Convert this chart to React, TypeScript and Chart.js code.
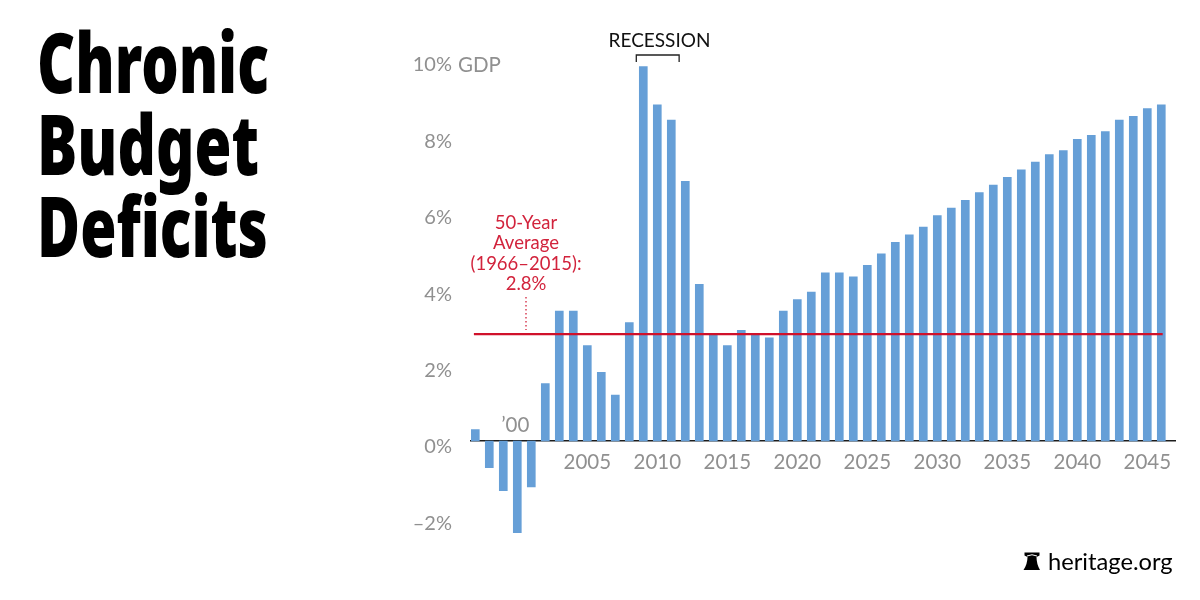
import React, { useEffect, useRef } from "react";
import { Chart, registerables } from "chart.js";

Chart.register(...registerables);

const years = [
  1997, 1998, 1999, 2000, 2001, 2002, 2003, 2004, 2005, 2006,
  2007, 2008, 2009, 2010, 2011, 2012, 2013, 2014, 2015, 2016,
  2017, 2018, 2019, 2020, 2021, 2022, 2023, 2024, 2025, 2026,
  2027, 2028, 2029, 2030, 2031, 2032, 2033, 2034, 2035, 2036,
  2037, 2038, 2039, 2040, 2041, 2042, 2043, 2044, 2045, 2046,
];
const deficits = [
  0.3, -0.7, -1.3, -2.4, -1.2, 1.5, 3.4, 3.4, 2.5, 1.8,
  1.2, 3.1, 9.8, 8.8, 8.4, 6.8, 4.1, 2.8, 2.5, 2.9,
  2.8, 2.7, 3.4, 3.7, 3.9, 4.4, 4.4, 4.3, 4.6, 4.9,
  5.2, 5.4, 5.6, 5.9, 6.1, 6.3, 6.5, 6.7, 6.9, 7.1,
  7.3, 7.5, 7.6, 7.9, 8.0, 8.1, 8.4, 8.5, 8.7, 8.8,
];
const averageValue = 2.8;
const averageSpan = [1996.9, 2046.1];
const xTickYears = [2005, 2010, 2015, 2020, 2025, 2030, 2035, 2040, 2045];
const yTickValues = [-2, 0, 2, 4, 6, 8, 10];
const titleLines = ["Chronic", "Budget", "Deficits"];
const averageNote = ["50-Year", "Average", "(1966–2015):", "2.8%"];
const recessionSpan = [2008.5, 2011.56];

const GREY = "#909090";
const RED = "#d2233c";
const BLUE = "#669fd7";
const FONT = "Lato, 'Open Sans', sans-serif";

const decorations = {
  id: "decorations",
  afterDraw(chart: any) {
    const { ctx, scales } = chart;
    const x = scales.x;
    const y = scales.y;
    ctx.save();

    // Title
    ctx.fillStyle = "#000";
    ctx.textAlign = "left";
    ctx.textBaseline = "alphabetic";
    ctx.font = "900 84px 'Noto Sans', 'Open Sans', sans-serif";
    const titleWidths = [232, 222, 231];
    titleLines.forEach((line, i) => {
      ctx.fillText(line, 37, 93 + i * 82, titleWidths[i]);
    });

    // "GDP" after the top tick
    ctx.fillStyle = GREY;
    ctx.font = `400 20.5px ${FONT}`;
    ctx.textBaseline = "middle";
    ctx.fillText("GDP", 458, y.getPixelForValue(10) + 6);

    // '00 label
    ctx.textAlign = "center";
    ctx.fillText("’00", x.getPixelForValue(2000) - 2, 425);

    // Recession bracket
    const rx0 = x.getPixelForValue(recessionSpan[0]);
    const rx1 = x.getPixelForValue(recessionSpan[1]);
    ctx.strokeStyle = "#222";
    ctx.lineWidth = 1.3;
    ctx.beginPath();
    ctx.moveTo(rx0, 62);
    ctx.lineTo(rx0, 55);
    ctx.lineTo(rx1, 55);
    ctx.lineTo(rx1, 62);
    ctx.stroke();
    ctx.fillStyle = "#111";
    ctx.font = `400 19px ${FONT}`;
    ctx.fillText("RECESSION", 659.5, 41);

    // Average note
    ctx.fillStyle = RED;
    ctx.font = `400 18.5px ${FONT}`;
    averageNote.forEach((line, i) => {
      ctx.fillText(line, 526, 223 + i * 20.3);
    });
    ctx.strokeStyle = RED;
    ctx.lineWidth = 1.3;
    ctx.setLineDash([1.5, 2.5]);
    ctx.beginPath();
    ctx.moveTo(526, 297);
    ctx.lineTo(526, 330);
    ctx.stroke();
    ctx.setLineDash([]);

    // Source
    ctx.fillStyle = "#000";
    ctx.textAlign = "left";
    ctx.font = `400 23.7px ${FONT}`;
    ctx.fillText("heritage.org", 1048, 562);

    // Bell icon
    ctx.beginPath();
    ctx.moveTo(1024.5, 552.5);
    ctx.lineTo(1039.5, 552.5);
    ctx.lineTo(1039.5, 555.5);
    ctx.lineTo(1036.5, 557);
    ctx.quadraticCurveTo(1036.5, 564, 1040, 570);
    ctx.lineTo(1023.5, 570);
    ctx.quadraticCurveTo(1027.5, 564, 1027.5, 557);
    ctx.lineTo(1024.5, 555.5);
    ctx.closePath();
    ctx.fill();
    ctx.strokeStyle = "#fff";
    ctx.lineWidth = 1;
    ctx.beginPath();
    ctx.moveTo(1027, 556);
    ctx.quadraticCurveTo(1032, 553.5, 1037, 556);
    ctx.stroke();

    ctx.restore();
  },
};

export default function App() {
  const ref = useRef<HTMLCanvasElement>(null);

  useEffect(() => {
    const chart = new Chart(ref.current as HTMLCanvasElement, {
      type: "bar",
      data: {
        datasets: [
          {
            type: "line",
            data: averageSpan.map((yr) => ({ x: yr, y: averageValue })),
            borderColor: "#d0112b",
            borderWidth: 2.2,
            pointRadius: 0,
            order: 0,
          } as any,
          {
            type: "bar",
            data: years.map((yr, i) => ({ x: yr, y: deficits[i] })),
            backgroundColor: BLUE,
            barThickness: 8,
            order: 1,
          } as any,
        ],
      },
      options: {
        responsive: false,
        animation: false,
        devicePixelRatio: 1,
        layout: { padding: { top: 59, bottom: 63.5, left: 0, right: 25 } },
        plugins: { legend: { display: false }, tooltip: { enabled: false }, title: { display: false } },
        scales: {
          x: {
            type: "linear",
            position: { y: 0 },
            offset: false,
            min: 1996.693,
            max: 2046.979,
            z: 1,
            grid: { display: false, drawTicks: false },
            border: { display: true, color: "#1c1c1c", width: 1.5 },
            afterBuildTicks: (scale: any) => {
              scale.ticks = xTickYears.map((value) => ({ value }));
            },
            ticks: {
              autoSkip: false,
              maxRotation: 0,
              padding: 9,
              color: GREY,
              font: { family: FONT, size: 20.5, weight: "400" },
              callback: (v: any) => String(v),
            },
          },
          y: {
            type: "linear",
            position: "left",
            min: -2.5,
            max: 10,
            grid: { display: false, drawTicks: false },
            border: { display: false },
            afterFit: (scale: any) => {
              scale.width = 471;
            },
            afterBuildTicks: (scale: any) => {
              scale.ticks = yTickValues.map((value) => ({ value }));
            },
            ticks: {
              autoSkip: false,
              padding: 19,
              labelOffset: 6,
              color: GREY,
              font: { family: FONT, size: 20, weight: "400" },
              callback: (v: any) => (v < 0 ? `–${Math.abs(v)}%` : `${v}%`),
            },
          },
        },
      } as any,
      plugins: [decorations],
    } as any);
    return () => chart.destroy();
  }, []);

  return (
    <canvas
      ref={ref}
      width={1200}
      height={600}
      style={{ position: "absolute", left: 0, top: 0, display: "block", background: "#fff" }}
    />
  );
}
